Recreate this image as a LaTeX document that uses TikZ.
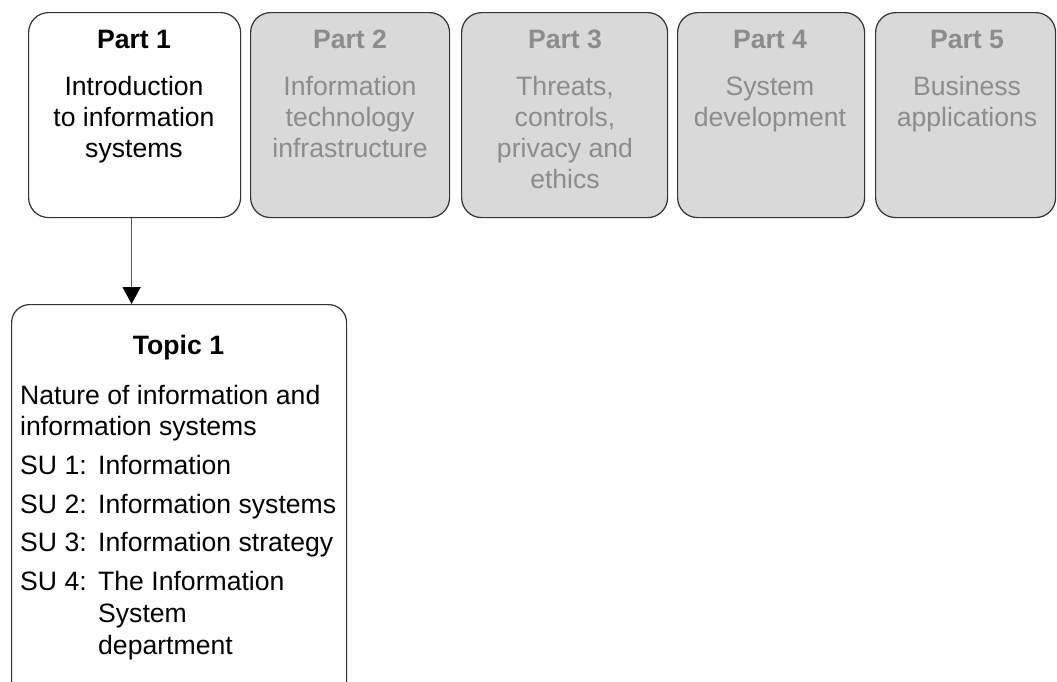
\documentclass[tikz,border=0pt]{standalone}
\usepackage{fontspec}
\setmainfont{Liberation Sans}
\usetikzlibrary{arrows.meta}
\definecolor{boxgray}{HTML}{D9D9D9}
\definecolor{txtgray}{HTML}{8C8C8C}
\definecolor{linegray}{HTML}{333333}
\tikzset{
  partbox/.style={draw=linegray, line width=1.2pt, rounded corners=20pt,
    minimum height=205pt, inner sep=0pt, anchor=north west},
  greybox/.style={partbox, fill=boxgray},
  titletext/.style={anchor=base, inner sep=0pt, font=\bfseries\fontsize{26.6}{31}\selectfont},
  bodytext/.style={anchor=north, inner sep=0pt, align=center, font=\fontsize{26.6}{31}\selectfont},
  listtext/.style={anchor=base west, inner sep=0pt, font=\fontsize{26.6}{31}\selectfont},
  connector/.style={line width=1.5pt, draw=black!65,
    -{Triangle[length=17pt,width=18pt,color=black]}}
}
\begin{document}
\begin{tikzpicture}[x=1pt,y=1pt]
\useasboundingbox (0,0) rectangle (1057,-681);
\clip (0,0) rectangle (1057,-681);
% part boxes
\node[partbox, fill=white, minimum width=212pt] (p1) at (28,-12) {};
\node[greybox, minimum width=199pt] (p2) at (250,-12) {};
\node[greybox, minimum width=206pt] (p3) at (461,-12) {};
\node[greybox, minimum width=187pt] (p4) at (677,-12) {};
\node[greybox, minimum width=180pt] (p5) at (875,-12) {};
% part texts
\node[titletext] (p1t) at (134,-48) {Part 1};
\node[bodytext] (p1b) at (134,-73.3) {\strut Introduction\\to information\\systems};
\node[titletext, txtgray] (p2t) at (350,-48) {Part 2};
\node[bodytext, txtgray] (p2b) at (350,-73.3) {\strut Information\\technology\\infrastructure};
\node[titletext, txtgray] (p3t) at (565,-48) {Part 3};
\node[bodytext, txtgray] (p3b) at (565,-73.3) {\strut Threats,\\controls,\\privacy and\\ethics};
\node[titletext, txtgray] (p4t) at (770,-48) {Part 4};
\node[bodytext, txtgray] (p4b) at (770,-73.3) {\strut System\\development};
\node[titletext, txtgray] (p5t) at (967,-48) {Part 5};
\node[bodytext, txtgray] (p5b) at (967,-73.3) {\strut Business\\applications};
% topic box
\node[draw=linegray, line width=1.2pt, rounded corners=18pt, minimum width=335pt,
  minimum height=420pt, anchor=north west, inner sep=0pt] (topic) at (11,-304) {};
\node[titletext] (tt) at (178.5,-354) {Topic 1};
\node[listtext] (n1) at (20,-404) {Nature of information and};
\node[listtext] (n2) at (20,-435) {information systems};
\node[listtext] (s1) at (20,-474) {SU 1:};
\node[listtext] (s1t) at (98,-474) {Information};
\node[listtext] (s2) at (20,-513) {SU 2:};
\node[listtext] (s2t) at (98,-513) {Information systems};
\node[listtext] (s3) at (20,-551) {SU 3:};
\node[listtext] (s3t) at (98,-551) {Information strategy};
\node[listtext] (s4) at (20,-590) {SU 4:};
\node[listtext] (s4t) at (98,-590) {The Information};
\node[listtext] (s4u) at (98,-622) {System};
\node[listtext] (s4v) at (98,-654) {department};
% connector
\draw[connector] ([xshift=-3pt]p1.south) -- ([xshift=-3pt]p1.south |- topic.north);
\end{tikzpicture}
\end{document}
